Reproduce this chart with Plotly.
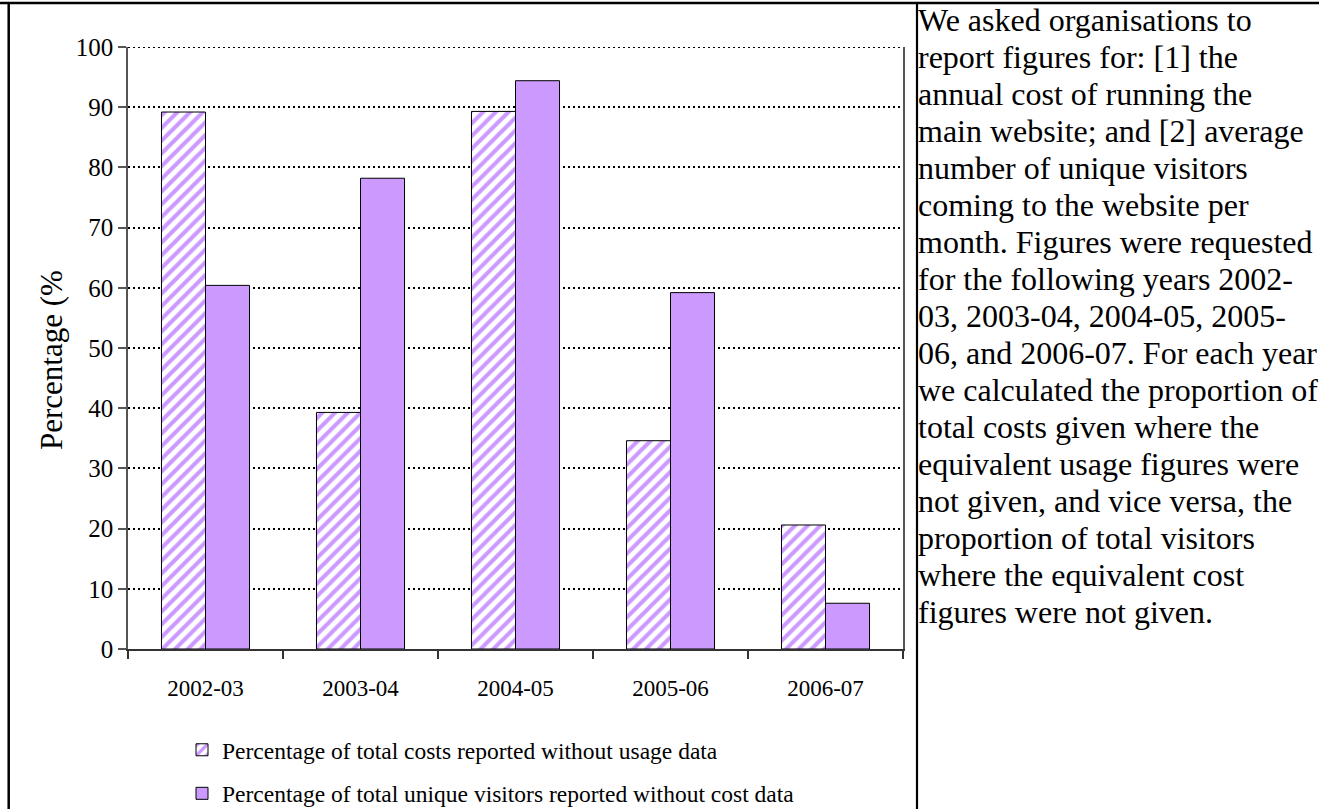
import plotly.graph_objects as go

# ---- data ----
categories = ["2002-03", "2003-04", "2004-05", "2005-06", "2006-07"]
costs_without_usage = [89.2, 39.3, 89.3, 34.6, 20.6]
visitors_without_cost = [60.4, 78.2, 94.4, 59.2, 7.6]
series_names = [
    "Percentage of total costs reported without usage data",
    "Percentage of total unique visitors reported without cost data",
]
y_title = "Percentage (%"
y_ticks = [0, 10, 20, 30, 40, 50, 60, 70, 80, 90, 100]
side_text_lines = [
    "We asked organisations to",
    "report figures for: [1] the",
    "annual cost of running the",
    "main website; and [2] average",
    "number of unique visitors",
    "coming to the website per",
    "month. Figures were requested",
    "for the following years 2002-",
    "03, 2003-04, 2004-05, 2005-",
    "06, and 2006-07. For each year",
    "we calculated the proportion of",
    "total costs given where the",
    "equivalent usage figures were",
    "not given, and vice versa, the",
    "proportion of total visitors",
    "where the equivalent cost",
    "figures were not given.",
]

# ---- layout geometry (pixels) ----
W, H = 1319, 809
PL, PR, PT, PB = 128, 903, 47, 649
FONT = "Liberation Serif"
PURPLE = "#CC99FF"
GRID_DASH = "2px,3px"


def fx(px):
    return (px - PL) / (PR - PL)


def fy(py):
    return (PB - py) / (PB - PT)


fig = go.Figure()
fig.add_trace(go.Bar(
    x=categories, y=costs_without_usage, name=series_names[0],
    legendgroup="a",
    marker=dict(color="white",
                pattern=dict(shape="/", fgcolor=PURPLE, bgcolor="white",
                             size=9, solidity=0.45, fillmode="replace"),
                line=dict(color="black", width=1)),
))
fig.add_trace(go.Bar(
    x=categories, y=visitors_without_cost, name=series_names[1],
    legendgroup="b",
    marker=dict(color=PURPLE, line=dict(color="black", width=1)),
))

shapes = [
    # top gridline at the axis maximum (plotly drops boundary gridlines)
    dict(type="line", xref="paper", yref="y", x0=0, x1=1, y0=y_ticks[-1], y1=y_ticks[-1],
         line=dict(color="black", width=2, dash=GRID_DASH), layer="below"),
    # top rule
    dict(type="line", xref="paper", yref="paper", x0=fx(0), x1=fx(W), y0=fy(3), y1=fy(3),
         line=dict(color="black", width=2.5)),
    # left rule
    dict(type="line", xref="paper", yref="paper", x0=fx(8.7), x1=fx(8.7), y0=fy(3), y1=fy(H + 5),
         line=dict(color="black", width=2.5)),
    # divider
    dict(type="line", xref="paper", yref="paper", x0=fx(917), x1=fx(917), y0=fy(3), y1=fy(H + 5),
         line=dict(color="black", width=2.2)),
]

annotations = [
    dict(text=y_title, xref="paper", yref="paper", x=fx(51), y=fy(360),
         textangle=-90, showarrow=False, xanchor="center", yanchor="middle",
         font=dict(family=FONT, size=31, color="black")),
]
for i, line in enumerate(side_text_lines):
    annotations.append(dict(
        text=line, xref="paper", yref="paper", x=fx(916), y=fy(20 + 37 * i),
        xanchor="left", yanchor="middle", showarrow=False,
        font=dict(family=FONT, size=32, color="black"),
    ))

fig.update_layout(
    width=W, height=H, autosize=False,
    margin=dict(l=PL, r=W - PR, t=PT, b=H - PB, pad=0, autoexpand=False),
    paper_bgcolor="white", plot_bgcolor="white",
    font=dict(family=FONT, color="black"),
    barmode="group", bargap=0.432, bargroupgap=0,
    showlegend=True,
    legend=dict(orientation="v", x=fx(182), xanchor="left", y=fy(728), yanchor="top",
                font=dict(family=FONT, size=23.5, color="black"),
                tracegroupgap=10, bgcolor="rgba(0,0,0,0)"),
    shapes=shapes, annotations=annotations,
)
fig.update_xaxes(
    type="category",
    showline=True, linecolor="#333", linewidth=1.5,
    ticks="outside", tickson="boundaries", ticklen=8, tickcolor="#333", tickwidth=1.5,
    showgrid=False, tickfont=dict(family=FONT, size=23, color="black"),
    ticklabelstandoff=18,
)
fig.update_yaxes(
    range=[0, 100], tickvals=y_ticks, showline=True, mirror=True,
    linecolor="#555", linewidth=1.5,
    ticks="outside", ticklen=8, tickcolor="#555", tickwidth=1.5,
    showgrid=True, gridcolor="black", gridwidth=2, griddash=GRID_DASH,
    zeroline=False, tickfont=dict(family=FONT, size=25, color="black"),
    ticklabelstandoff=0,
)

fig.write_html("out.html", config={"displayModeBar": False},
               post_script="document.body.style.margin='0';")
